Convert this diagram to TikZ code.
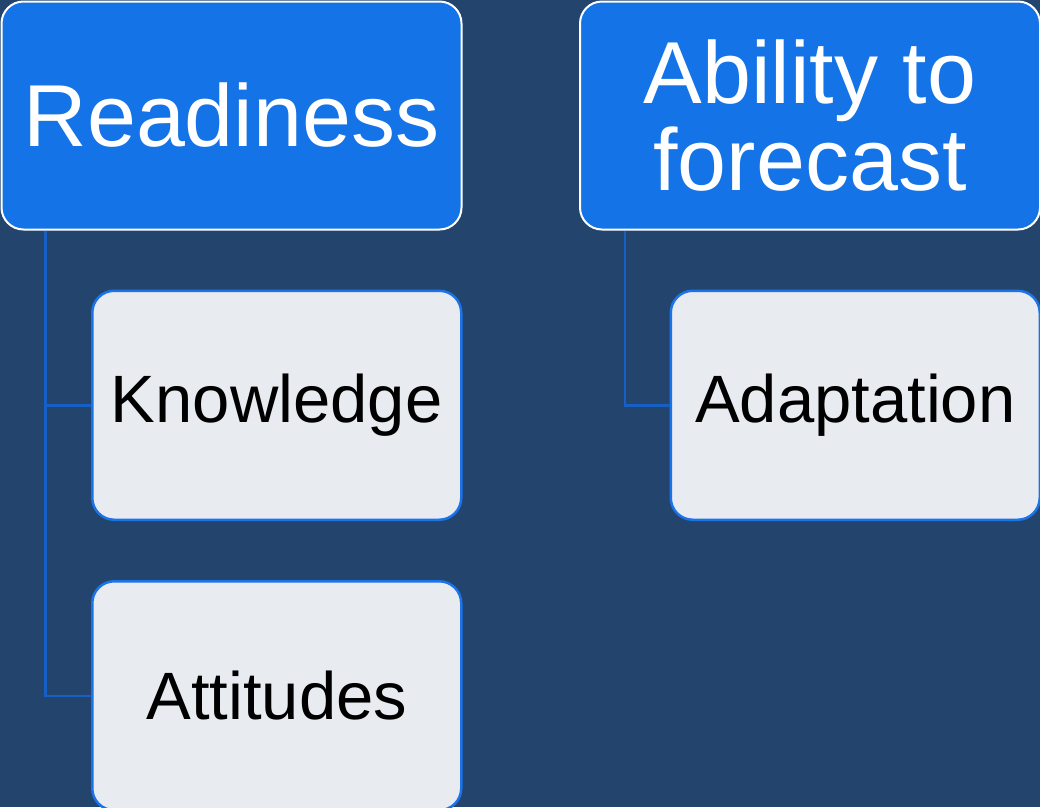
\documentclass[tikz,border=0pt]{standalone}
\usepackage{fontspec}
\setmainfont{Liberation Sans}
\usetikzlibrary{positioning}
\definecolor{bgnavy}{HTML}{23456D}
\definecolor{topblue}{HTML}{1473E6}
\definecolor{subfill}{HTML}{E8EBF0}
\definecolor{subline}{HTML}{1A73E8}
\definecolor{linkblue}{HTML}{155FC5}

\begin{document}
\begin{tikzpicture}[x=1pt,y=1pt,node distance=59pt]
    \tikzstyle{top}=[rectangle,draw=white,fill=topblue,text=white,line width=2pt,rounded corners=22pt,align=center,minimum width=460pt,minimum height=228pt,inner sep=0pt,font=\fontsize{88}{87}\selectfont]
    \tikzstyle{sub}=[rectangle,draw=subline,fill=subfill,text=black,line width=2.5pt,rounded corners=22pt,align=center,minimum width=369pt,minimum height=229pt,inner sep=0pt,font=\fontsize{67}{67}\selectfont]
    \tikzstyle{link}=[draw=linkblue,line width=2.5pt]
    \fill[bgnavy] (0,0) rectangle (1040,-807);
    \useasboundingbox (0,0) rectangle (1040,-807);
    \node[top] (readiness) at (231.5,-115.5) {Readiness};
    \node[top,right=116.5pt of readiness] (ability) {Ability to\\forecast};
    \node[sub,below left=59pt and 0pt of readiness.south east] (knowledge) {Knowledge};
    \node[sub,below=of knowledge] (attitudes) {Attitudes};
    \node[sub,below left=59pt and 0pt of ability.south east] (adaptation) {Adaptation};
    \draw[link] ([xshift=45pt]readiness.south west) |- (knowledge.west);
    \draw[link] ([xshift=45pt]readiness.south west) |- (attitudes.west);
    \draw[link] ([xshift=46pt]ability.south west) |- (adaptation.west);
\end{tikzpicture}
\end{document}
